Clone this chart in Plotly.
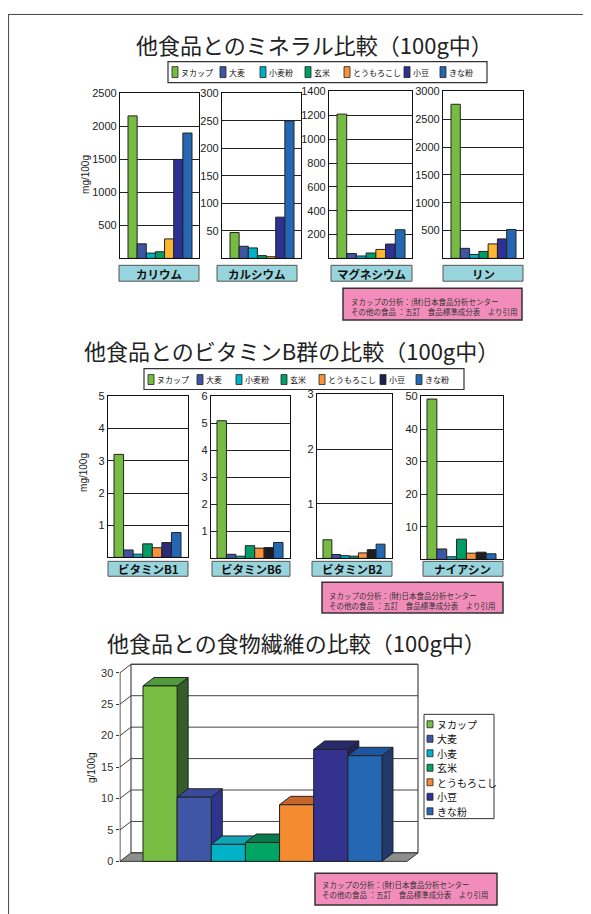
import plotly.graph_objects as go

# ---------------- data ----------------
categories = ['ヌカップ', '大麦', '小麦粉', '玄米', 'とうもろこし', '小豆', 'きな粉']
fiber_categories = ['ヌカップ', '大麦', '小麦', '玄米', 'とうもろこし', '小豆', 'きな粉']

mineral_names = ['カリウム', 'カルシウム', 'マグネシウム', 'リン']
potassium = [2160, 220, 80, 100, 295, 1500, 1900]
calcium = [47, 22, 19, 5, 3, 75, 250]
magnesium = [1210, 40, 20, 45, 75, 120, 240]
phosphorus = [2770, 180, 70, 125, 260, 350, 520]
mineral_max = [2500, 300, 1400, 3000]
mineral_step = [500, 50, 200, 500]

vitamin_names = ['ビタミンB1', 'ビタミンB6', 'ビタミンB2', 'ナイアシン']
vit_b1 = [3.2, 0.23, 0.10, 0.42, 0.30, 0.46, 0.77]
vit_b6 = [5.1, 0.15, 0.08, 0.47, 0.38, 0.40, 0.59]
vit_b2 = [0.34, 0.07, 0.05, 0.04, 0.10, 0.16, 0.26]
niacin = [49.2, 3.2, 0.8, 6.2, 1.9, 2.2, 1.7]
vitamin_max = [5, 6, 3, 50]
vitamin_step = [1, 1, 1, 10]

fiber = [27.9, 10.2, 2.7, 3.0, 9.0, 17.8, 16.8]
fiber_max = 30
fiber_step = 5

title_mineral = '他食品とのミネラル比較（100g中）'
title_vitamin = '他食品とのビタミンB群の比較（100g中）'
title_fiber = '他食品との食物繊維の比較（100g中）'
unit_mg = 'mg/100g'
unit_g = 'g/100g'
note_lines = ['ヌカップの分析：(財)日本食品分析センター',
              'その他の食品 ：五訂　食品標準成分表　より引用']

# ---------------- styles ----------------
base_colors = ['#76BC43', '#3F55A4', '#00B0C6', '#009E64', '#F7923A', '#2E3192', '#2468B4']
mineral_colors = ['#76BC43', '#3F55A4', '#00B0C6', '#009E64', '#FDB631', '#2E3192', '#2468B4']
vit_colors_b1 = ['#76BC43', '#3F55A4', '#00B0C6', '#009E64', '#F7923A', '#2E2A7A', '#2468B4']
vit_colors_dark = ['#76BC43', '#3F55A4', '#00B0C6', '#009E64', '#F7923A', '#1C1C22', '#2468B4']
vit_legend_colors = ['#76BC43', '#3F55A4', '#00B0C6', '#009E64', '#F7923A', '#1E1E50', '#2468B4']
fiber_front = ['#78BE43', '#3F56A6', '#00B2C6', '#00A563', '#F58B31', '#33338F', '#2567B3']
fiber_top = ['#4F9A3C', '#3A4A9A', '#10A4B4', '#0A7A4C', '#C8652A', '#262A6A', '#1D55A0']
fiber_side = ['#365C2C', '#2E3590', '#0A7C8A', '#07603C', '#A8551F', '#1F2358', '#213A6B']

# the page body adds an 8px margin; the figure is sized and offset to fit the window
OFF = 8
W, H = 591 - OFF, 914 - OFF
JP = 'Noto Sans CJK JP, sans-serif'
NUM = 'Liberation Sans, Arial, sans-serif'
TICKFONT = dict(family=NUM, size=11, color='#222')


def fx(px):
    return (px - OFF) / W


def fy(py):
    return 1 - (py - OFF) / H


fig = go.Figure()
layout = dict(width=W, height=H, autosize=False,
              margin=dict(l=0, r=0, t=0, b=0, pad=0),
              paper_bgcolor='white', plot_bgcolor='white', showlegend=False)
shapes = []
annotations = []


def text(t, px, py, size, xanchor='center', yanchor='middle', family=JP, color='#222', angle=0, align='center'):
    annotations.append(dict(text=t, x=fx(px), y=fy(py), xref='paper', yref='paper',
                            xanchor=xanchor, yanchor=yanchor, showarrow=False, textangle=angle,
                            font=dict(family=family, size=size, color=color), align=align))


def rect(x0, y0, x1, y1, fill, line='#333', lw=1):
    shapes.append(dict(type='rect', xref='paper', yref='paper', x0=fx(x0), x1=fx(x1),
                       y0=fy(y1), y1=fy(y0), fillcolor=fill, line=dict(color=line, width=lw)))


def bar_panel(idx, values, vmax, step, box, padL, padR, colors):
    x0, y0, x1, y1 = box
    bw = (x1 - x0 - padL - padR) / 7
    xr = [-0.5 - padL / bw, 6.5 + padR / bw]
    xs = 'x' if idx == 1 else f'x{idx}'
    ys = 'y' if idx == 1 else f'y{idx}'
    fig.add_trace(go.Bar(x=categories, y=values, width=1, xaxis=xs, yaxis=ys,
                         marker=dict(color=colors, line=dict(color='#222', width=1)),
                         hoverinfo='skip'))
    tv = [step * k for k in range(1, int(round(vmax / step)) + 1)]
    layout['xaxis' if idx == 1 else f'xaxis{idx}'] = dict(
        domain=[fx(x0), fx(x1)], range=xr, anchor=ys, type='category',
        showticklabels=False, showgrid=False, zeroline=False, ticks='',
        showline=True, mirror=True, linecolor='#111', linewidth=1, fixedrange=True)
    layout['yaxis' if idx == 1 else f'yaxis{idx}'] = dict(
        domain=[fy(y1), fy(y0)], range=[0, vmax], anchor=xs,
        tickvals=tv, ticktext=[f'{v:g}' for v in tv], ticks='',
        showgrid=True, gridcolor='#222', gridwidth=1, zeroline=False,
        showline=True, mirror=True, linecolor='#111', linewidth=1.3,
        tickfont=TICKFONT, fixedrange=True)


def legend_row(names, colors, xs, yc, sw_w, sw_h, size):
    for name, c, x in zip(names, colors, xs):
        rect(x, yc - sw_h / 2, x + sw_w, yc + sw_h / 2, c, line='#222', lw=0.8)
        text(name, x + sw_w + 0.5, yc, size, xanchor='left', color='#111')


def note_box(x0, y0, x1, y1, tx, ty):
    rect(x0, y0, x1, y1, '#F28DBB', line='#333', lw=1.5)
    text('<br>'.join(note_lines), tx, ty, 7.5, xanchor='left', yanchor='top', color='#333', align='left')


# page frame
shapes.append(dict(type='line', xref='paper', yref='paper', x0=0.001, x1=0.001, y0=0, y1=1,
                   line=dict(color='#444', width=1)))
shapes.append(dict(type='line', xref='paper', yref='paper', x0=0, x1=1, y0=0.9995, y1=0.9995,
                   line=dict(color='#444', width=1)))

# ---------------- mineral section ----------------
text(title_mineral, 314, 38, 22)
rect(168, 56, 487, 77, 'white', line='#333', lw=1.2)
legend_row(categories, base_colors, [172, 220, 260, 305, 344, 404, 440], 66.5, 6, 11, 8)

mineral_vals = [potassium, calcium, magnesium, phosphorus]
mineral_boxes = [(120, 88, 199, 254), (222, 88, 301, 254), (329, 86, 412, 254), (443, 86, 523, 254)]
mineral_label_boxes = [(119, 199), (217, 297), (331, 412), (443, 523)]
for k in range(4):
    bar_panel(k + 1, mineral_vals[k], mineral_max[k], mineral_step[k], mineral_boxes[k], 8, 7, mineral_colors)
    lx0, lx1 = mineral_label_boxes[k]
    rect(lx0, 261, lx1, 277, '#98D4DC', line='#555', lw=1)
    text('<b>' + mineral_names[k] + '</b>', (lx0 + lx1) / 2, 269.5, 11.5, color='#111')
text(unit_mg, 86, 170, 10, family=NUM, angle=-90, color='#222')
note_box(343, 284, 522, 316, 349, 290)

# ---------------- vitamin section ----------------
text(title_vitamin, 291, 346, 22)
rect(144, 365, 464, 386, 'white', line='#333', lw=1.2)
legend_row(categories, vit_legend_colors, [148, 197, 236, 281, 319, 380, 416], 376, 6, 10, 8)

vit_vals = [vit_b1, vit_b6, vit_b2, niacin]
vit_boxes = [(108, 393, 188, 555), (211, 393, 290, 556), (317, 391, 392, 556), (421, 393, 503, 557)]
vit_label_boxes = [(108, 188), (212, 290), (312, 392), (423, 503)]
vit_color_sets = [vit_colors_b1, vit_colors_dark, vit_colors_dark, vit_colors_dark]
for k in range(4):
    bar_panel(k + 5, vit_vals[k], vitamin_max[k], vitamin_step[k], vit_boxes[k], 6, 7, vit_color_sets[k])
    lx0, lx1 = vit_label_boxes[k]
    rect(lx0, 559, lx1, 574, '#98D4DC', line='#555', lw=1)
    text('<b>' + vitamin_names[k] + '</b>', (lx0 + lx1) / 2, 566.5, 11.5, color='#111')
text(unit_mg, 84, 470, 10, family=NUM, angle=-90, color='#222')
note_box(322, 580, 503, 611, 327, 586)

# ---------------- fiber section (3D columns) ----------------
text(title_fiber, 296, 640, 22)

FX0, FX1, FY0, FY1 = 119.5, 440, 650, 878
unit_x, origin_x = 34.14, 143
unit_y, zero_y = 6.33, 861
xr = [(FX0 - origin_x) / unit_x, (FX1 - origin_x) / unit_x]
yr = [(zero_y - FY1) / unit_y, (zero_y - FY0) / unit_y]
DX = 11 / unit_x
DY = 8.5 / unit_y
XL = (120 - origin_x) / unit_x
XR = (407 - origin_x) / unit_x


def poly(xs, ys, fill, line='#222', lw=1):
    fig.add_trace(go.Scatter(x=xs + [xs[0]], y=ys + [ys[0]], mode='lines', fill='toself',
                             fillcolor=fill, line=dict(color=line, width=lw),
                             xaxis='x9', yaxis='y9', hoverinfo='skip'))


# back wall
poly([XL + DX, XR + DX, XR + DX, XL + DX], [DY, DY, fiber_max + DY, fiber_max + DY], 'white', line='#222')
# gridlines (side diagonal + back wall horizontal)
gx, gy = [], []
for v in range(fiber_step, fiber_max + 1, fiber_step):
    gx += [XL, XL + DX, XR + DX, None]
    gy += [v, v + DY, v + DY, None]
fig.add_trace(go.Scatter(x=gx, y=gy, mode='lines', line=dict(color='#444', width=1),
                         xaxis='x9', yaxis='y9', hoverinfo='skip'))
# floor
poly([XL, XR, XR + DX, XL + DX], [0, 0, DY, DY], '#8E8E8E', line='#333')
# front axis
fig.add_trace(go.Scatter(x=[XL, XL], y=[0, fiber_max], mode='lines', line=dict(color='#333', width=1),
                         xaxis='x9', yaxis='y9', hoverinfo='skip'))
# columns
for i, v in enumerate(fiber):
    a, b = i, i + 1
    poly([b, b + DX, b + DX, b], [0, DY, v + DY, v], fiber_side[i])
    poly([a, b, b + DX, a + DX], [v, v, v + DY, v + DY], fiber_top[i])
    poly([a, b, b, a], [0, 0, v, v], fiber_front[i])

layout['xaxis9'] = dict(domain=[fx(FX0), fx(FX1)], range=xr, anchor='y9', visible=False, fixedrange=True)
layout['yaxis9'] = dict(domain=[fy(FY1), fy(FY0)], range=yr, anchor='x9',
                        tickvals=list(range(0, fiber_max + 1, fiber_step)),
                        ticks='outside', ticklen=3, tickcolor='#333', showline=False,
                        showgrid=False, zeroline=False, tickfont=dict(family=NUM, size=11, color='#333'),
                        fixedrange=True)

# fiber legend
rect(424, 713, 494, 818, 'white', line='#333', lw=1)
for i, name in enumerate(fiber_categories):
    yc = 723 + i * 14.6
    rect(427, yc - 3.5, 433, yc + 3.5, fiber_front[i], line='#222', lw=0.8)
    text(name, 434.5, yc, 10, xanchor='left', color='#111')
text(unit_g, 92, 767, 10, family=NUM, angle=-90, color='#222')
note_box(315, 873, 497, 905, 320, 877)

layout['shapes'] = shapes
layout['annotations'] = annotations
fig.update_layout(**layout)
fig.write_html('out.html')
